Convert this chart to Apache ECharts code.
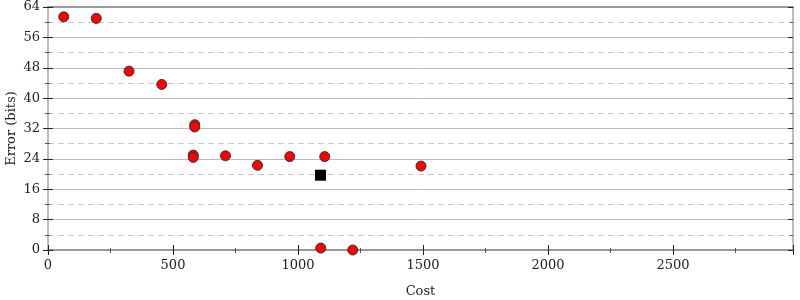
<!DOCTYPE html>
<html><head><meta charset="utf-8">
<script src="https://cdn.jsdelivr.net/npm/echarts@6/dist/echarts.min.js"></script>
<style>html,body{margin:0;padding:0;background:#fff}#c{width:800px;height:300px}</style>
</head><body><div id="c"></div>
<script>
var costs  = [63, 193, 324, 455, 587, 587, 581, 581, 710, 838, 967, 1107, 1492, 1091, 1219];
var errors = [61.4, 61.0, 47.1, 43.6, 33.0, 32.4, 25.0, 24.4, 24.8, 22.3, 24.6, 24.6, 22.1, 0.5, 0];
var bestCost = [1090];
var bestError = [19.7];
var xMin = 0, xMax = 2980, xStep = 500;
var yMin = 0, yMax = 64, yStep = 8;

var pts = costs.map(function(c, i){ return [c, errors[i]]; });
var best = bestCost.map(function(c, i){ return [c, bestError[i]]; });
var font = 'DejaVu Serif';
var chart = echarts.init(document.getElementById('c'), null, {renderer:'canvas'});

function xa(extra){
  return Object.assign({type:'value', min:xMin, max:xMax, interval:xStep,
    splitLine:{show:false}, axisLabel:{show:false}, axisLine:{show:false},
    axisTick:{show:false}, minorTick:{show:false}}, extra);
}
function ya(extra){
  return Object.assign({type:'value', min:yMin, max:yMax, interval:yStep,
    splitLine:{show:false}, axisLabel:{show:false}, axisLine:{show:false},
    axisTick:{show:false}, minorTick:{show:false}}, extra);
}
function plain(v){ return String(v); }

chart.setOption({
  animation:false,
  grid:{left:48, right:7, top:7, bottom:50, containLabel:false, outerBoundsMode:'none'},
  xAxis:[
    xa({position:'bottom', name:'Cost', nameLocation:'middle', nameGap:35, nameMoveOverlap:false,
      nameTextStyle:{fontFamily:font, fontSize:13, color:'#222'},
      axisLine:{show:true, onZero:false, lineStyle:{color:'#999', width:2}},
      axisTick:{show:true, length:5, lineStyle:{color:'#222'}},
      minorTick:{show:true, splitNumber:2, length:3, lineStyle:{color:'#555'}},
      axisLabel:{show:true, fontFamily:font, fontSize:13, color:'#222', margin:9, showMaxLabel:false, formatter:plain}}),
    xa({position:'bottom',
      axisTick:{show:true, inside:true, length:5, lineStyle:{color:'#222'}},
      minorTick:{show:true, splitNumber:2, length:2, lineStyle:{color:'#555'}}}),
    xa({position:'top', axisLine:{show:true, onZero:false, lineStyle:{color:'#999', width:2}}})
  ],
  yAxis:[
    ya({position:'left', name:'Error (bits)', nameLocation:'middle', nameGap:30, nameMoveOverlap:false,
      nameTextStyle:{fontFamily:font, fontSize:13, color:'#222'},
      axisLine:{show:true, onZero:false, lineStyle:{color:'#bbb', width:2}},
      axisTick:{show:true, length:5, lineStyle:{color:'#222'}},
      minorTick:{show:true, splitNumber:2, length:3, lineStyle:{color:'#555'}},
      axisLabel:{show:true, fontFamily:font, fontSize:13, color:'#222', margin:8, formatter:plain},
      splitLine:{show:true, lineStyle:{color:'#bbb', width:1}},
      minorSplitLine:{show:true, lineStyle:{color:'#c8c8c8', width:1, type:[6,4]}}}),
    ya({position:'left',
      axisTick:{show:true, inside:true, length:5, lineStyle:{color:'#222'}},
      minorTick:{show:true, splitNumber:2, length:2, lineStyle:{color:'#555'}}}),
    ya({position:'right',
      axisLine:{show:true, onZero:false, lineStyle:{color:'#bbb', width:2}},
      axisTick:{show:true, inside:true, length:5, lineStyle:{color:'#222'}},
      minorTick:{show:true, splitNumber:2, length:3, lineStyle:{color:'#555'}}})
  ],
  series:[
    {type:'scatter', xAxisIndex:0, yAxisIndex:0, data:pts, symbol:'circle', symbolSize:10,
      itemStyle:{color:'#ff0000', borderColor:'#333', borderWidth:1, opacity:1}, z:5},
    {type:'scatter', xAxisIndex:0, yAxisIndex:0, data:best, symbol:'rect', symbolSize:11,
      itemStyle:{color:'#000', opacity:1}, z:6}
  ]
});
</script></body></html>
